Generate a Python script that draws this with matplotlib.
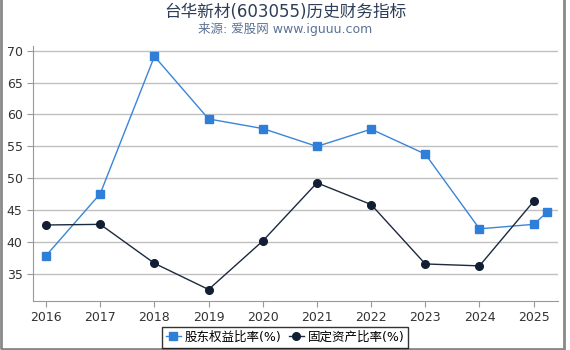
import matplotlib
matplotlib.use("Agg")
import matplotlib.pyplot as plt
from matplotlib.patches import Rectangle

plt.rcParams['font.family'] = ['DejaVu Sans', 'Noto Sans CJK SC']

years = [2016, 2017, 2018, 2019, 2020, 2021, 2022, 2023, 2024, 2025]
equity_x = [2016, 2017, 2018, 2019, 2020, 2021, 2022, 2023, 2024, 2025, 2025.25]
equity = [37.9, 47.6, 69.1, 59.3, 57.8, 55.0, 57.7, 53.8, 42.1, 42.8, 44.7]
fixed = [42.7, 42.8, 36.7, 32.6, 40.2, 49.3, 45.9, 36.6, 36.3, 46.4]
yticks = [35, 40, 45, 50, 55, 60, 65, 70]

fig = plt.figure(figsize=(5.7, 3.5), dpi=100)
ax = fig.add_axes([0.058, 0.14, 0.921, 0.73])

ax.plot(equity_x, equity, color='#3a85d8', lw=1, marker='s', ms=5.5,
        markerfacecolor='#2f7fd8', markeredgecolor='#2f7fd8', label='股东权益比率(%)', zorder=3)
ax.plot(years, fixed, color='#1c2a40', lw=1, marker='o', ms=5.5,
        markerfacecolor='#111e33', markeredgecolor='#111e33', label='固定资产比率(%)', zorder=3)

ax.set_xlim(2015.76, 2025.45)
ax.set_ylim(30.8, 70.8)
ax.set_xticks(years)
ax.set_yticks(yticks)
ax.tick_params(labelsize=9, colors='#333333', length=4, color='#999999')
ax.grid(axis='y', color='#c0c0c0', lw=1)
ax.set_axisbelow(True)
for s in ['top', 'right']:
    ax.spines[s].set_visible(False)
for s in ['left', 'bottom']:
    ax.spines[s].set_color('#999999')

fig.text(0.5, 0.965, '台华新材(603055)历史财务指标', ha='center', va='center',
         fontsize=12, color='#2e3e58')
fig.text(0.5, 0.918, '来源: 爱股网 www.iguuu.com', ha='center', va='center',
         fontsize=9, color='#5a7394')

leg = fig.legend(loc='lower center', bbox_to_anchor=(0.5, 0.0), ncol=2, fontsize=9,
                 frameon=True, fancybox=False, handlelength=1.2, handletextpad=0.3,
                 columnspacing=0.6, borderpad=0.3, borderaxespad=0.2)
leg.get_frame().set_edgecolor('black')
leg.get_frame().set_linewidth(1)

fig.patches.append(Rectangle((0.001, 0.004), 0.988, 1.1, transform=fig.transFigure,
                             fill=False, edgecolor='#888888', lw=2))

fig.savefig('out.png', dpi=100)
